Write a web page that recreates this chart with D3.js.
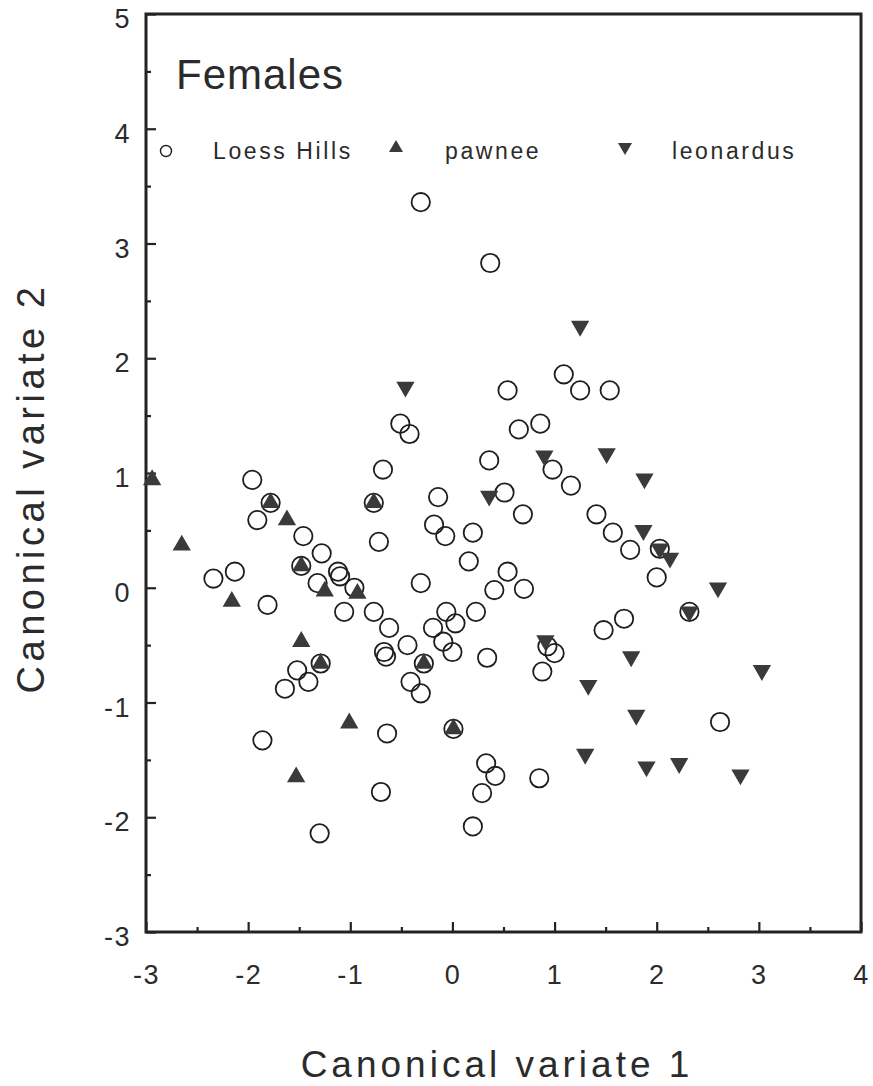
<!DOCTYPE html>
<html>
<head>
<meta charset="utf-8">
<script src="https://cdn.jsdelivr.net/npm/d3@7"></script>
<style>
  html, body { margin: 0; padding: 0; background: #fff; }
  svg { display: block; }
  text { font-family: "Liberation Sans", Arial, Helvetica, sans-serif; fill: #2b2b2b; }
</style>
</head>
<body>
<svg id="chart" width="873" height="1086"></svg>
<script>
// ---- Data ----
const seriesNames = ["Loess Hills", "pawnee", "leonardus"];

const loessX = [-0.31, 0.37, 1.09, 1.25, 1.54, 0.54, -0.51, -0.42, 0.65, 0.86,
  0.36, -0.68, -1.96, 0.98, 1.16, 0.51, -0.14, 0.69, 1.41, -1.91,
  -0.72, -0.18, -0.07, 0.20, 1.57, 1.74, -1.46, -1.28, 0.16, 0.54,
  2.00, -2.34, -2.13, -1.12, -1.10, -1.81, -1.48, -1.32, -0.96, -0.31,
  -1.06, -0.77, -0.62, -0.44, -0.67, -0.65, -0.19, -0.06, 0.03, -0.09,
  0.00, 0.23, 0.34, 0.41, 0.70, 0.93, 1.00, 0.88, 1.48, 1.68,
  2.32, 2.03, -1.52, -1.41, -1.64, -0.41, -0.31, -1.29, -0.28, -1.78,
  -0.77, -1.86, -0.64, 0.01, -0.70, 0.33, 0.42, 0.29, -1.30, 0.20,
  0.85, 2.62];
const loessY = [3.36, 2.83, 1.86, 1.72, 1.72, 1.72, 1.43, 1.34, 1.38, 1.43,
  1.11, 1.03, 0.94, 1.03, 0.89, 0.83, 0.79, 0.64, 0.64, 0.59,
  0.40, 0.55, 0.45, 0.48, 0.48, 0.33, 0.45, 0.30, 0.23, 0.14,
  0.09, 0.08, 0.14, 0.14, 0.10, -0.15, 0.19, 0.04, 0.00, 0.04,
  -0.21, -0.21, -0.35, -0.50, -0.56, -0.60, -0.35, -0.21, -0.31, -0.47,
  -0.56, -0.21, -0.61, -0.02, -0.01, -0.51, -0.57, -0.73, -0.37, -0.27,
  -0.21, 0.34, -0.72, -0.82, -0.88, -0.82, -0.92, -0.66, -0.66, 0.74,
  0.74, -1.33, -1.27, -1.23, -1.78, -1.53, -1.64, -1.79, -2.14, -2.08,
  -1.66, -1.17];

const pawneeX = [-2.94, -1.78, -1.62, -2.65, -1.48, -2.16, -1.25, -0.93, -1.48, -1.29,
  -0.28, -0.77, -1.01, 0.01, -1.53];
const pawneeY = [0.94, 0.74, 0.59, 0.37, 0.19, -0.12, -0.03, -0.05, -0.47, -0.66,
  -0.66, 0.74, -1.18, -1.23, -1.65];

const leonardusX = [-0.46, 1.25, 0.90, 1.51, 1.88, 0.36, 1.87, 2.03, 2.13, 2.60,
  2.32, 0.91, 1.75, 1.33, 3.03, 1.80, 1.30, 1.90, 2.22, 2.82];
const leonardusY = [1.75, 2.28, 1.15, 1.17, 0.95, 0.80, 0.50, 0.34, 0.26, 0.00,
  -0.21, -0.46, -0.60, -0.85, -0.72, -1.11, -1.45, -1.56, -1.53, -1.63];

const xTicks = [-3, -2, -1, 0, 1, 2, 3, 4];
const yTicks = [-3, -2, -1, 0, 1, 2, 3, 4, 5];
const xMinorTicks = [-2.5, -1.5, -0.5, 0.5, 1.5, 2.5, 3.5];
const yMinorTicks = [-2.5, -1.5, -0.5, 0.5, 1.5, 2.5, 3.5, 4.5];

const panelTitle = "Females";
const xTitle = "Canonical variate 1";
const yTitle = "Canonical variate 2";

// ---- Layout ----
const svg = d3.select("#chart");
const L = 146, R = 861, T = 14, B = 932;
const ink = "#232323";
const fillDark = "#3a3a3a";

const x = d3.scaleLinear().domain([-3, 4]).range([L, R]);
const y = d3.scaleLinear().domain([-3, 5]).range([B, T]);

// Axes (ticks pointing inward)
const gx = svg.append("g").attr("transform", `translate(0,${B})`)
  .call(d3.axisBottom(x).tickValues(xTicks).tickSize(-10).tickPadding(33).tickFormat(d3.format("d")));
const gxm = svg.append("g").attr("transform", `translate(0,${B})`)
  .call(d3.axisBottom(x).tickValues(xMinorTicks).tickSize(-5).tickFormat(""));
const gy = svg.append("g").attr("transform", `translate(${L},0)`)
  .call(d3.axisLeft(y).tickValues(yTicks).tickSize(-10).tickPadding(15).tickFormat(d3.format("d")));
const gym = svg.append("g").attr("transform", `translate(${L},0)`)
  .call(d3.axisLeft(y).tickValues(yMinorTicks).tickSize(-5).tickFormat(""));

[gx, gxm, gy, gym].forEach(g => {
  g.select(".domain").remove();
  g.selectAll(".tick line").attr("stroke", ink).attr("stroke-width", 2.2);
});
gx.selectAll(".tick text").attr("font-size", 27).attr("fill", "#2b2b2b").attr("letter-spacing", 1.5)
  .text(d => d < 0 ? "-" + Math.abs(d) : d);
gy.selectAll(".tick text").attr("font-size", 27).attr("fill", "#2b2b2b").attr("letter-spacing", 1.5)
  .attr("dy", "0.5em")
  .text(d => d < 0 ? "-" + Math.abs(d) : d);

// Frame
svg.append("rect").attr("x", L).attr("y", T).attr("width", R - L).attr("height", B - T)
  .attr("fill", "none").attr("stroke", ink).attr("stroke-width", 3);

// Points
const loess = loessX.map((v, i) => ({x: v, y: loessY[i]}));
const pawnee = pawneeX.map((v, i) => ({x: v, y: pawneeY[i]}));
const leonardus = leonardusX.map((v, i) => ({x: v, y: leonardusY[i]}));

svg.append("g").selectAll("circle").data(loess).join("circle")
  .attr("cx", d => x(d.x)).attr("cy", d => y(d.y)).attr("r", 9.2)
  .attr("fill", "none").attr("stroke", "#1e1e1e").attr("stroke-width", 1.8);

const triUp = d3.symbol().type(d3.symbolTriangle).size(145);
svg.append("g").selectAll("path").data(pawnee).join("path")
  .attr("d", triUp).attr("transform", d => `translate(${x(d.x)},${y(d.y)})`)
  .attr("fill", fillDark);

svg.append("g").selectAll("path").data(leonardus).join("path")
  .attr("d", triUp).attr("transform", d => `translate(${x(d.x)},${y(d.y)}) rotate(180)`)
  .attr("fill", fillDark);

// Panel title and legend
svg.append("text").attr("x", 176).attr("y", 89).attr("font-size", 42)
  .attr("letter-spacing", 1).text(panelTitle);

const legY = 151;
svg.append("circle").attr("cx", 166).attr("cy", legY).attr("r", 5.5)
  .attr("fill", "none").attr("stroke", "#1e1e1e").attr("stroke-width", 1.4);
svg.append("path").attr("d", d3.symbol().type(d3.symbolTriangle).size(85))
  .attr("transform", `translate(396,${legY - 3})`).attr("fill", fillDark);
svg.append("path").attr("d", d3.symbol().type(d3.symbolTriangle).size(85))
  .attr("transform", `translate(625,${legY - 4}) rotate(180)`).attr("fill", fillDark);
const legTextX = [213, 445, 672];
seriesNames.forEach((n, i) => {
  svg.append("text").attr("x", legTextX[i]).attr("y", legY + 8).attr("font-size", 23)
    .attr("letter-spacing", 2.6).text(n);
});

// Axis titles
svg.append("text").attr("x", 497).attr("y", 1077).attr("text-anchor", "middle")
  .attr("font-size", 37).attr("letter-spacing", 4).text(xTitle);
svg.append("text").attr("transform", "translate(44,488) rotate(-90)").attr("text-anchor", "middle")
  .attr("font-size", 38).attr("letter-spacing", 4.5).text(yTitle);
</script>
</body>
</html>
